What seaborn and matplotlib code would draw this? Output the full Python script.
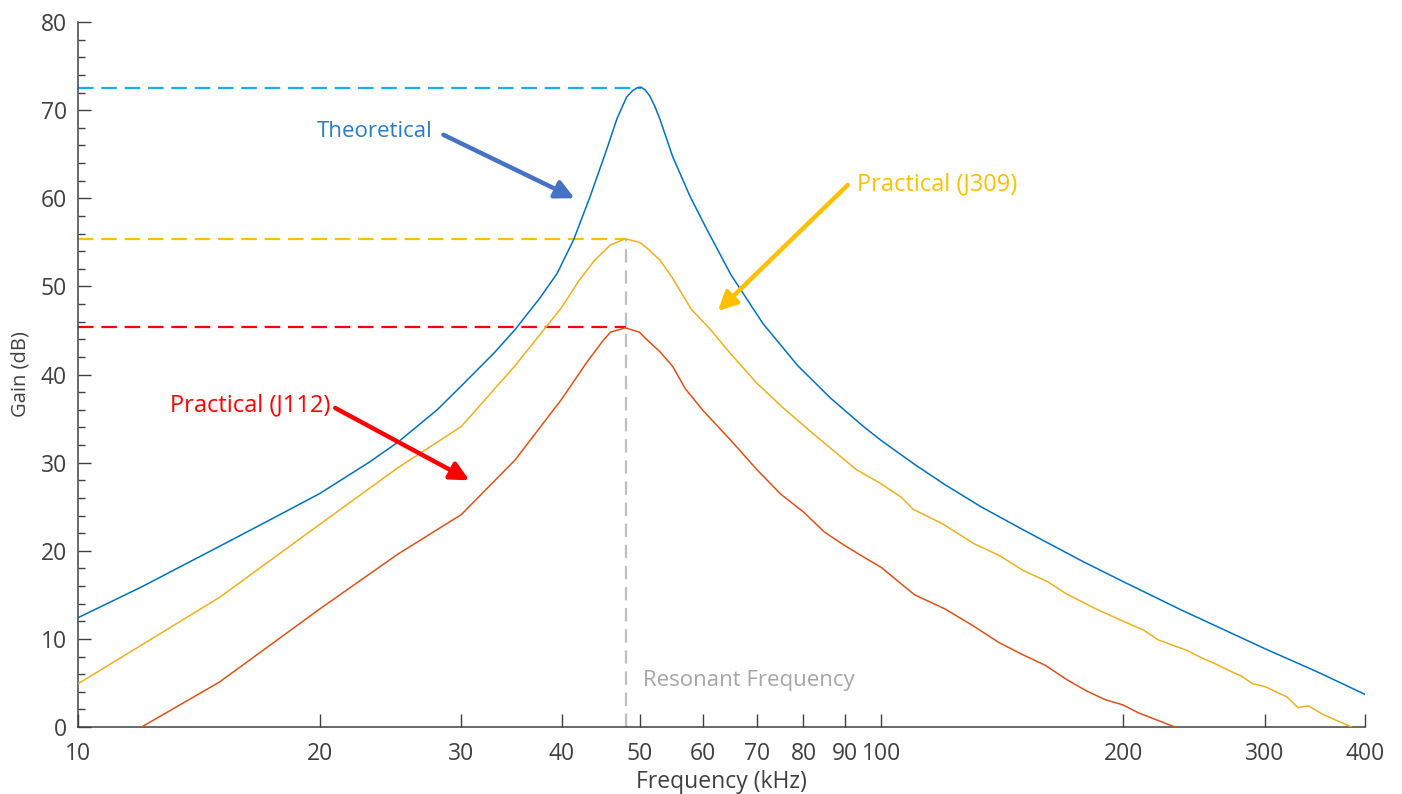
import matplotlib
matplotlib.use("Agg")
import matplotlib.pyplot as plt
import seaborn as sns
import numpy as np
import pandas as pd

# ---------------- data ----------------
theo_f = [10, 12, 15, 17.5, 20, 23, 25, 28, 30, 33, 35, 37.6, 39.5, 41.4, 43.4, 45.5,
          46.9, 48.2, 49.0, 49.7, 50.2, 50.8, 51.5, 52.2, 53, 55, 57.8, 60.7, 65, 71.2,
          78.7, 86.5, 95, 100, 110, 120, 133, 150, 178, 200, 236, 300, 350, 400]
theo_g = [12.4, 15.9, 20.5, 23.7, 26.5, 30.0, 32.3, 36.0, 38.7, 42.5, 45.1, 48.7, 51.5,
          55.3, 60.2, 65.5, 69.1, 71.5, 72.2, 72.55, 72.6, 72.3, 71.6, 70.5, 69.0, 64.7,
          60.2, 56.4, 51.3, 45.8, 41.0, 37.3, 34.1, 32.5, 29.8, 27.5, 25.0, 22.4, 18.8,
          16.5, 13.3, 8.9, 6.2, 3.7]

j309_f = [10, 15, 20, 25, 30, 35, 40, 42, 44, 46, 48, 50, 51, 53, 55, 58, 61, 65, 70,
          75.5, 83.2, 93.1, 99.5, 105.8, 109.6, 119.5, 130.4, 140, 150.6, 161, 170, 185,
          200, 212, 221, 240, 251, 260, 271, 281, 290, 300, 320, 330, 340, 355, 385]
j309_g = [4.9, 14.7, 23.0, 29.4, 34.1, 41.0, 47.6, 50.6, 53.0, 54.7, 55.4, 55.0, 54.4,
          53.0, 50.9, 47.4, 45.3, 42.3, 39.0, 36.2, 32.9, 29.2, 27.7, 26.1, 24.7, 23.0,
          20.8, 19.5, 17.7, 16.5, 15.1, 13.4, 12.0, 11.0, 9.9, 8.7, 7.8, 7.2, 6.4, 5.75,
          4.9, 4.6, 3.4, 2.2, 2.4, 1.4, 0.0]

j112_f = [12, 15, 20, 25, 30, 35, 40, 43, 45, 46, 48, 50, 51, 53, 55, 57, 60, 65, 70,
          75, 80, 85, 90, 95, 100, 106, 110, 120, 130, 140, 150, 160, 170, 180, 190, 200,
          209, 232]
j112_g = [0.0, 5.1, 13.4, 19.6, 24.1, 30.3, 37.2, 41.4, 43.8, 44.8, 45.3, 44.8, 44.0,
          42.6, 40.9, 38.4, 35.9, 32.5, 29.2, 26.4, 24.4, 22.1, 20.6, 19.3, 18.1, 16.2,
          15.0, 13.4, 11.5, 9.6, 8.2, 7.0, 5.4, 4.1, 3.1, 2.5, 1.6, 0.0]

res_freq = 48.1
theo_peak_f, theo_peak = 50.2, 72.5
j309_peak = 55.4
j112_peak = 45.4

x_ticks = [10, 20, 30, 40, 50, 60, 70, 80, 90, 100, 200, 300, 400]
y_ticks = [0, 10, 20, 30, 40, 50, 60, 70, 80]

# ---------------- style ----------------
sns.set_theme(style="ticks")
plt.rcParams['font.family'] = ['Open Sans', 'DejaVu Sans']
AX_COL = "#404040"

fig = plt.figure(figsize=(14.02, 7.94), dpi=100)
ax = fig.add_axes([78/1402, 1-727/794, (1365-78)/1402, (727-22)/794])

df = pd.concat([
    pd.DataFrame({"f": theo_f, "g": theo_g, "s": "Theoretical"}),
    pd.DataFrame({"f": j309_f, "g": j309_g, "s": "J309"}),
    pd.DataFrame({"f": j112_f, "g": j112_g, "s": "J112"}),
])
palette = {"Theoretical": "#0072BD", "J309": "#EDB120", "J112": "#D95319"}
sns.lineplot(data=df, x="f", y="g", hue="s", palette=palette, sort=False,
             estimator=None, lw=1.1, legend=False, ax=ax, zorder=3)

ax.set_xscale("log")
ax.set_xlim(10, 400)
ax.set_ylim(0, 80)

# reference dashed lines
dash = dict(lw=1.6, dashes=(7, 3.5))
ax.plot([10, theo_peak_f], [theo_peak, theo_peak], color="#1AAEE8", **dash, zorder=2)
ax.plot([10, res_freq], [j309_peak, j309_peak], color="#FFC000", **dash, zorder=2)
ax.plot([10, res_freq], [j112_peak, j112_peak], color="#FF0000", **dash, zorder=2)
ax.plot([res_freq, res_freq], [0, j309_peak], color="#BFBFBF", lw=1.6,
        dashes=(6, 3.5), zorder=2)

# ticks
ax.set_xticks(x_ticks)
ax.set_xticklabels([str(t) for t in x_ticks])
ax.xaxis.set_minor_locator(matplotlib.ticker.NullLocator())
ax.set_yticks(y_ticks)
ax.yaxis.set_minor_locator(matplotlib.ticker.MultipleLocator(2))
ax.tick_params(axis="both", which="major", direction="in", length=9.5, width=1.0,
               color=AX_COL, labelcolor=AX_COL, labelsize=16.5)
ax.tick_params(axis="x", which="major", pad=11)
ax.tick_params(axis="y", which="major", pad=8)
ax.tick_params(axis="y", which="minor", direction="in", length=5, width=1.0, color=AX_COL)

for s in ["top", "right"]:
    ax.spines[s].set_visible(False)
for s in ["left", "bottom"]:
    ax.spines[s].set_color(AX_COL)
    ax.spines[s].set_linewidth(1.1)

ax.set_xlabel("Frequency (kHz)", fontsize=16.5, color=AX_COL, labelpad=3)
ax.set_ylabel("Gain (dB)", fontsize=14.5, color=AX_COL, labelpad=7)

# annotations
ax.text(23.4, 67.6, "Theoretical", color="#2B7BC4", fontsize=16, ha="center", va="center")
ax.annotate("", xy=(41.5, 60.0), xytext=(28.5, 67.2),
            arrowprops=dict(arrowstyle="-|>", lw=3.2, color="#4472C4",
                            mutation_scale=28, shrinkA=0, shrinkB=0))
ax.text(93.2, 61.6, "Practical (J309)", color="#FFC000", fontsize=17, ha="left", va="center")
ax.annotate("", xy=(62.6, 47.2), xytext=(90.8, 61.5),
            arrowprops=dict(arrowstyle="-|>", lw=3.2, color="#FFC000",
                            mutation_scale=28, shrinkA=0, shrinkB=0))
ax.text(20.6, 36.5, "Practical (J112)", color="#FF0000", fontsize=17, ha="right", va="center")
ax.annotate("", xy=(30.7, 28.0), xytext=(20.9, 36.2),
            arrowprops=dict(arrowstyle="-|>", lw=3.2, color="#FF0000",
                            mutation_scale=28, shrinkA=0, shrinkB=0))
ax.text(50.5, 5.3, "Resonant Frequency", color="#A6A6A6", fontsize=16, ha="left", va="center")

fig.savefig("out.png", dpi=100)
